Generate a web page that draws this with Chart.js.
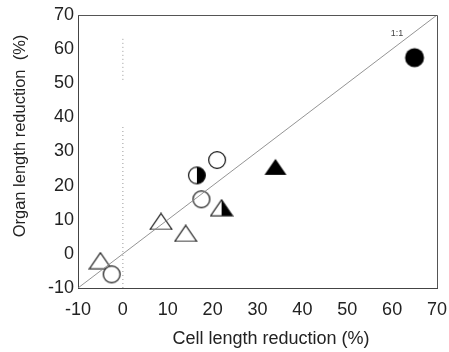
<!DOCTYPE html>
<html>
<head>
<meta charset="utf-8">
<script src="https://cdn.jsdelivr.net/npm/chart.js@4.4.1/dist/chart.umd.min.js"></script>
<style>
  html,body{margin:0;padding:0;background:#fff;}
  #wrap{width:449px;height:352px;}
</style>
</head>
<body>
<div id="wrap"><canvas id="c" width="449" height="352"></canvas></div>
<script>
// values: [cell length reduction %, organ length reduction %]
const openCircles   = [[21, 27.5], [17.5, 16], [-2.5, -6]];
const filledCircles = [[65, 57.5]];
const halfCircles   = [[16.5, 23]];
const openTriangles = [[8.5, 9.5], [14, 6], [-5, -2]];
const filledTriangles = [[34, 25.5]];
const halfTriangles = [[22, 13.5]];
const oneToOne = [[-10, -10], [70, 70]];
const zeroLine = [[0, -10], [0, 38], [0, null], [0, 51], [0, 63.5]];
const ticks = [-10, 0, 10, 20, 30, 40, 50, 60, 70];
const xTitle = 'Cell length reduction (%)';
const yTitle = 'Organ length reduction  (%)';

const pts = a => a.map(p => ({x: p[0], y: p[1]}));
const FONT = '"Liberation Sans", Arial, sans-serif';

// marker images
function mk(w, h, fn){ const c = document.createElement('canvas'); c.width = w; c.height = h; const g = c.getContext('2d'); fn(g, w, h); return c; }
function circ(g, w, h, r){ g.beginPath(); g.arc(w/2, h/2, r, 0, Math.PI*2); }
function tri(g, w, h){ g.beginPath(); g.moveTo(w/2, 1); g.lineTo(w-1, h-1); g.lineTo(1, h-1); g.closePath(); }
const imgOpenCircle = mk(20, 20, (g,w,h)=>{ circ(g,w,h,8.4); g.fillStyle='#fff'; g.fill(); g.lineWidth=1.2; g.strokeStyle='#111'; g.stroke(); });
const imgFilledCircle = mk(22, 22, (g,w,h)=>{ circ(g,w,h,9.5); g.fillStyle='#000'; g.fill(); });
const imgHalfCircle = mk(20, 20, (g,w,h)=>{
  circ(g,w,h,8.4); g.fillStyle='#fff'; g.fill();
  g.beginPath(); g.arc(w/2, h/2, 8.4, -Math.PI/2, Math.PI/2); g.closePath(); g.fillStyle='#000'; g.fill();
  circ(g,w,h,8.4); g.lineWidth=1.2; g.strokeStyle='#111'; g.stroke();
});
const imgOpenTri = mk(24, 18, (g,w,h)=>{ tri(g,w,h); g.fillStyle='#fff'; g.fill(); g.lineWidth=1.2; g.strokeStyle='#111'; g.stroke(); });
const imgFilledTri = mk(24, 18, (g,w,h)=>{ tri(g,w,h); g.fillStyle='#000'; g.fill(); });
const imgHalfTri = mk(24, 18, (g,w,h)=>{
  tri(g,w,h); g.fillStyle='#fff'; g.fill();
  g.beginPath(); g.moveTo(w/2, 1); g.lineTo(w-1, h-1); g.lineTo(w/2, h-1); g.closePath(); g.fillStyle='#000'; g.fill();
  tri(g,w,h); g.lineWidth=1.2; g.strokeStyle='#111'; g.stroke();
});

function markers(data, img){
  return {type:'scatter', data: pts(data), pointStyle: img, pointRadius: 10, showLine:false};
}

const labels = {
  id: 'labels',
  afterDraw(chart){
    const ctx = chart.ctx; ctx.save();
    ctx.fillStyle = '#222'; ctx.textAlign = 'center'; ctx.textBaseline = 'middle';
    ctx.font = '18px ' + FONT;
    ctx.fillText(xTitle, 271, 339);
    ctx.font = '16.5px ' + FONT;
    ctx.save(); ctx.translate(20, 136); ctx.rotate(-Math.PI/2); ctx.fillText(yTitle, 0, 0); ctx.restore();
    ctx.font = '9px ' + FONT; ctx.fillStyle = '#444';
    ctx.fillText('1:1', 397, 34);
    // frame top and right
    const a = chart.chartArea;
    ctx.strokeStyle = '#555'; ctx.lineWidth = 1;
    ctx.beginPath(); ctx.moveTo(a.left, a.top + 0.5); ctx.lineTo(a.right + 0.5, a.top + 0.5); ctx.lineTo(a.right + 0.5, a.bottom); ctx.stroke();
    ctx.restore();
  }
};

const tickFont = {family: FONT, size: 18};
const axis = (extra) => Object.assign({
  type: 'linear', min: -10, max: 70,
  afterBuildTicks: s => { s.ticks = ticks.map(v => ({value: v})); },
  grid: {display: false, drawTicks: false},
  border: {display: true, color: '#444', width: 1},
  ticks: {color: '#222', font: tickFont, padding: 4}
}, extra);

new Chart(document.getElementById('c'), {
  type: 'scatter',
  data: {datasets: [
    {type:'line', data: pts(zeroLine), borderColor:'#999', borderWidth:1, borderDash:[1,3], pointRadius:0, spanGaps:false},
    {type:'line', data: pts(oneToOne), borderColor:'#888', borderWidth:0.9, pointRadius:0},
    markers(openCircles, imgOpenCircle),
    markers(halfCircles, imgHalfCircle),
    markers(filledCircles, imgFilledCircle),
    markers(openTriangles, imgOpenTri),
    markers(halfTriangles, imgHalfTri),
    markers(filledTriangles, imgFilledTri)
  ]},
  options: {
    responsive: false, animation: false,
    layout: {padding: {top: 15, right: 0, left: 0, bottom: 0}},
    plugins: {legend: {display: false}, tooltip: {enabled: false}},
    scales: {
      x: axis({position: 'bottom', afterFit: s => { s.height = 64; s.paddingRight = 12; },
        ticks: {color: '#222', font: tickFont, padding: 11, maxRotation: 0}}),
      y: axis({position: 'left', afterFit: s => { s.width = 78; }})
    }
  },
  plugins: [labels]
});
</script>
</body>
</html>
